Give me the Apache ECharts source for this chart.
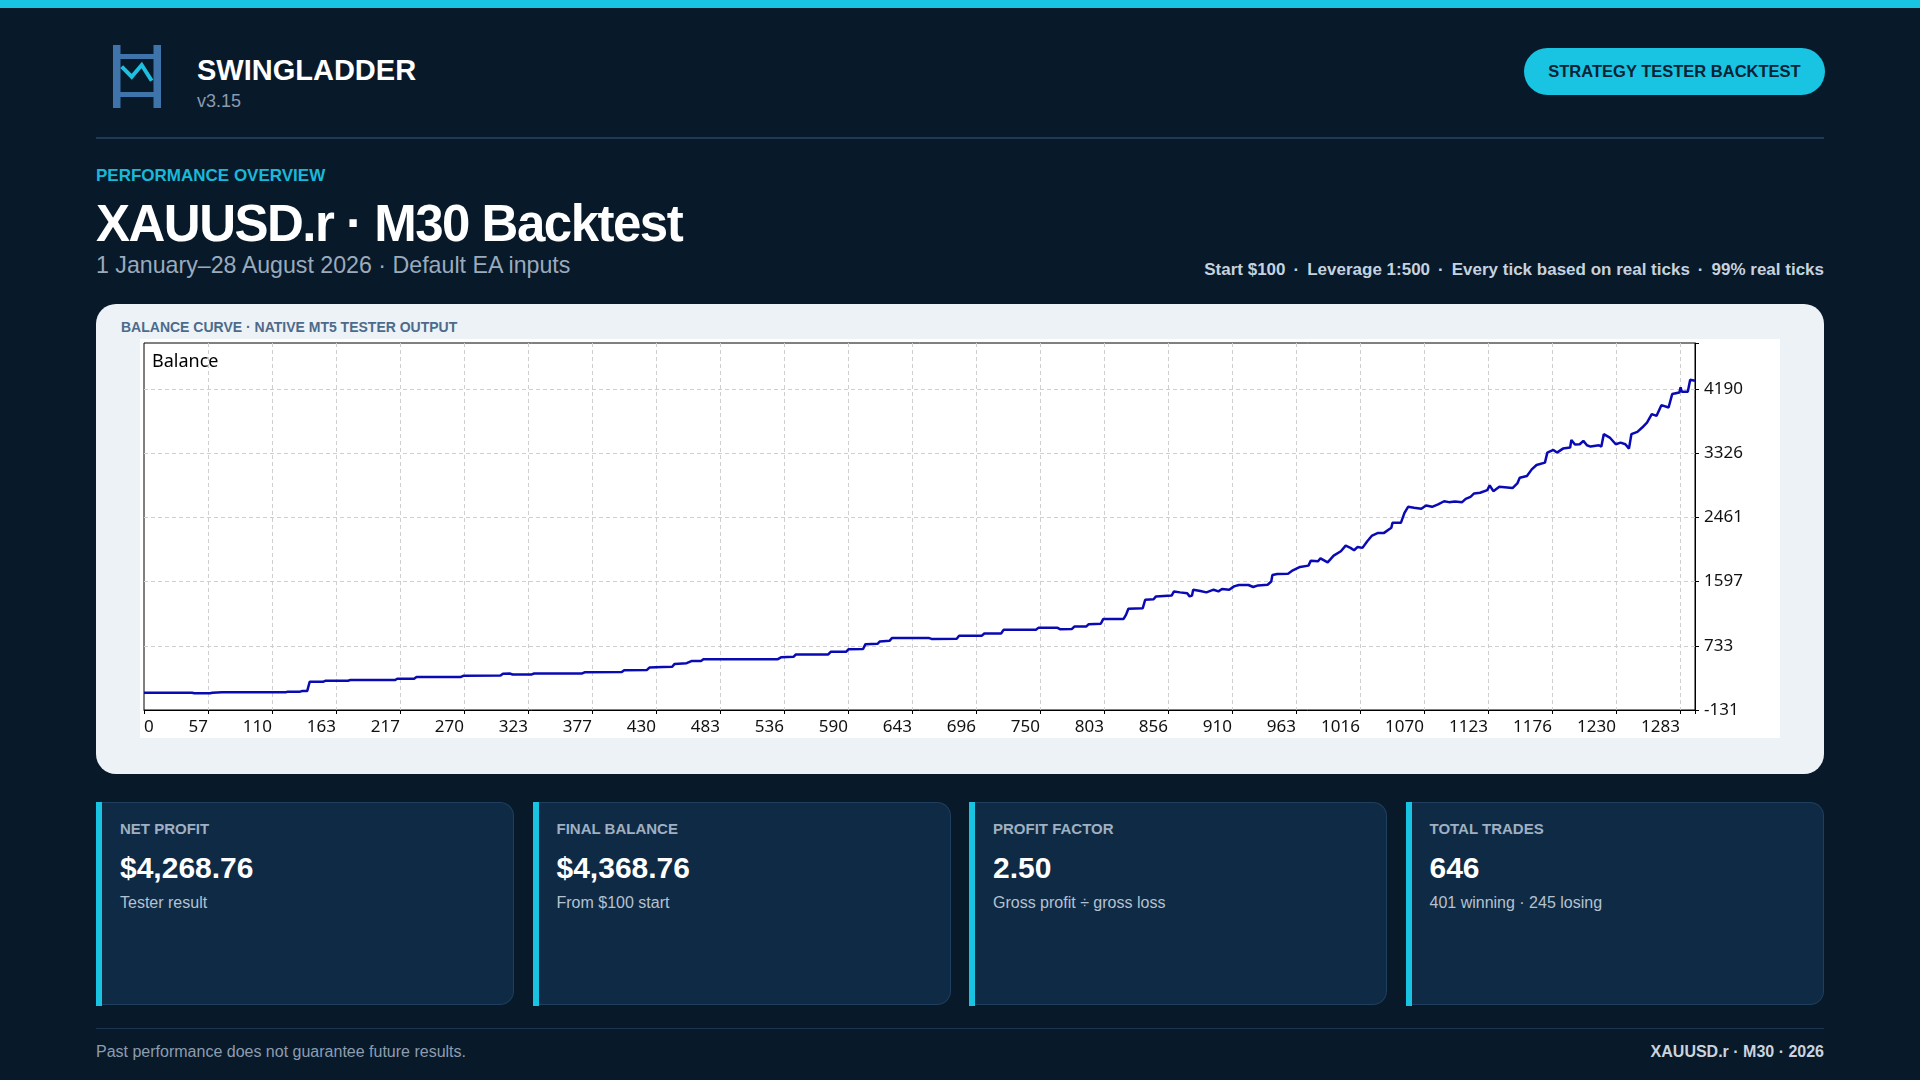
<!DOCTYPE html>
<html>
<head>
<meta charset="utf-8">
<title>SWINGLADDER - XAUUSD.r M30 Backtest</title>
<script src="https://cdn.jsdelivr.net/npm/echarts@6/dist/echarts.min.js"></script>
<style>
    body {
        margin: 0;
        width: 1920px;
        height: 1080px;
        overflow: hidden;
        position: relative;
        background: #08192a;
        font-family: "Liberation Sans", Arial, sans-serif;
    }
    .abs { position: absolute; white-space: nowrap; line-height: 1; }
    .topbar { position: absolute; left: 0; top: 0; width: 1920px; height: 8px; background: #19c3e2; }
    .rule { position: absolute; left: 96px; width: 1728px; }
    .badge {
        position: absolute; left: 1524px; top: 48px; width: 301px; height: 47px;
        border-radius: 24px; background: #19c3e2; color: #0a2233;
        font-weight: bold; font-size: 16.5px; line-height: 47px; text-align: center;
    }
    .meta span.dot { margin: 0 8px; }
    .panel {
        position: absolute; left: 96px; top: 304px; width: 1728px; height: 470px;
        background: #edf2f7; border-radius: 20px;
    }
    #balanceChart { position: absolute; left: 140px; top: 339px; width: 1640px; height: 399px; background: #fff; }
    .card {
        position: absolute; top: 802px; width: 418px; height: 203px; box-sizing: border-box;
        background: #0f2a45; border: 1.5px solid #1f3f5e; border-left: none;
        border-radius: 6px 14px 14px 6px;
    }
    .card .accent { position: absolute; left: 0; top: -1.5px; bottom: -1.5px; width: 6px; background: #19c3e2; }
    .card .lbl { position: absolute; left: 24px; top: 18px; font-size: 15px; font-weight: bold; color: #9fb0c2; line-height: 1; white-space: nowrap; }
    .card .val { position: absolute; left: 24px; top: 49.5px; font-size: 30px; font-weight: bold; color: #fff; line-height: 1; white-space: nowrap; }
    .card .sub { position: absolute; left: 24px; top: 91.5px; font-size: 16px; color: #b5c2cf; line-height: 1; white-space: nowrap; }
</style>
</head>
<body>
<div class="topbar"></div>

<!-- header -->
<svg class="abs" style="left:113px;top:45px" width="48" height="63" viewBox="0 0 48 63">
    <rect x="0" y="0" width="7.5" height="63" fill="#3e74aa"/>
    <rect x="40.5" y="0" width="7.5" height="63" fill="#3e74aa"/>
    <rect x="0" y="9" width="48" height="5" fill="#3e74aa"/>
    <rect x="0" y="47" width="48" height="5" fill="#3e74aa"/>
    <polyline points="8.7,21.7 18.7,31.7 28.7,20 38.7,35.7" fill="none" stroke="#1ec0e0" stroke-width="4"/>
</svg>
<div class="abs" style="left:197px;top:56px;font-size:29px;font-weight:bold;color:#fff">SWINGLADDER</div>
<div class="abs" style="left:197px;top:92px;font-size:18px;color:#8a9bb0">v3.15</div>
<div class="badge">STRATEGY TESTER BACKTEST</div>
<div class="rule" style="top:137px;height:2px;background:#1e3a55"></div>

<div class="abs" style="left:96px;top:166.5px;font-size:17px;font-weight:bold;color:#1ab8d8">PERFORMANCE OVERVIEW</div>
<div class="abs" style="left:96px;top:198px;font-size:51px;font-weight:bold;color:#fff;letter-spacing:-1.5px">XAUUSD.r · M30 Backtest</div>
<div class="abs" style="left:96px;top:253.5px;font-size:23.2px;color:#9aabbd">1 January–28 August 2026 · Default EA inputs</div>
<div class="abs meta" style="right:96px;top:261px;font-size:17px;font-weight:bold;color:#c5d2df">Start $100<span class="dot">·</span>Leverage 1:500<span class="dot">·</span>Every tick based on real ticks<span class="dot">·</span>99% real ticks</div>

<!-- chart panel -->
<div class="panel"></div>
<div class="abs" style="left:121px;top:320px;font-size:14px;font-weight:bold;color:#4c6b8a">BALANCE CURVE · NATIVE MT5 TESTER OUTPUT</div>
<div id="balanceChart"></div>

<!-- stat cards -->
<div class="card" style="left:96px"><div class="accent"></div>
    <div class="lbl">NET PROFIT</div><div class="val">$4,268.76</div><div class="sub">Tester result</div></div>
<div class="card" style="left:532.5px"><div class="accent"></div>
    <div class="lbl">FINAL BALANCE</div><div class="val">$4,368.76</div><div class="sub">From $100 start</div></div>
<div class="card" style="left:969px"><div class="accent"></div>
    <div class="lbl">PROFIT FACTOR</div><div class="val">2.50</div><div class="sub">Gross profit ÷ gross loss</div></div>
<div class="card" style="left:1405.5px"><div class="accent"></div>
    <div class="lbl">TOTAL TRADES</div><div class="val">646</div><div class="sub">401 winning · 245 losing</div></div>

<!-- footer -->
<div class="rule" style="top:1028px;height:1px;background:#1b3550"></div>
<div class="abs" style="left:96px;top:1043.5px;font-size:16px;color:#8d9db0">Past performance does not guarantee future results.</div>
<div class="abs" style="right:96px;top:1043.5px;font-size:16px;font-weight:bold;color:#c9d4df">XAUUSD.r · M30 · 2026</div>

<script>
    // tester axis labels
    var xTickLabels = ['0', '57', '110', '163', '217', '270', '323', '377', '430', '483', '536', '590', '643',
        '696', '750', '803', '856', '910', '963', '1016', '1070', '1123', '1176', '1230', '1283'];
    var yTickLabels = ['-131', '733', '1597', '2461', '3326', '4190'];

    // balance after each deal (deal number / balance)
    var dealIndex = [0, 40, 42, 55, 57, 65, 118, 120, 130, 132,
        136, 138, 149, 151, 170, 172, 209, 211, 225, 227,
        264, 266, 297, 299, 305, 307, 323, 325, 365, 367,
        398, 400, 419, 421, 432, 440, 442, 452, 456, 464,
        466, 528, 531, 541, 543, 570, 572, 585, 587, 599,
        601, 611, 613, 621, 623, 654, 656, 677, 679, 698,
        700, 714, 716, 743, 745, 761, 763, 773, 775, 785,
        787, 797, 799, 816, 818, 820, 832, 834, 841, 843,
        856, 858, 863, 869, 871, 873, 874, 880, 885, 891,
        895, 898, 904, 908, 912, 920, 924, 928, 936, 939,
        940, 944, 953, 957, 963, 970, 972, 978, 980, 986,
        991, 997, 1001, 1005, 1008, 1011, 1015, 1019, 1023, 1028,
        1033, 1039, 1040, 1047, 1050, 1053, 1058, 1064, 1068, 1073,
        1078, 1083, 1087, 1092, 1098, 1101, 1105, 1108, 1113, 1119,
        1121, 1124, 1129, 1140, 1144, 1146, 1152, 1156, 1160, 1167,
        1169, 1174, 1177, 1182, 1188, 1189, 1192, 1196, 1199, 1202,
        1205, 1212, 1214, 1216, 1221, 1226, 1230, 1234, 1237, 1239,
        1244, 1248, 1252, 1256, 1260, 1264, 1270, 1273, 1279, 1280,
        1281, 1286, 1288, 1292];
    var balance = [100, 100, 94, 94, 100, 108, 108, 116, 116, 124,
        126, 250, 248, 262, 264, 272, 272, 290, 290, 313,
        315, 330, 333, 358, 360, 347, 348, 360, 362, 377,
        380, 404, 408, 440, 447, 452, 490, 500, 528, 530,
        553, 553, 580, 585, 616, 618, 652, 655, 688, 690,
        756, 760, 792, 800, 837, 837, 826, 828, 868, 870,
        899, 899, 948, 950, 975, 975, 957, 960, 993, 995,
        1025, 1030, 1093, 1095, 1150, 1233, 1240, 1354, 1360, 1399,
        1410, 1466, 1453, 1440, 1399, 1410, 1489, 1471, 1453, 1489,
        1467, 1498, 1489, 1534, 1552, 1552, 1525, 1547, 1556, 1600,
        1687, 1700, 1705, 1750, 1795, 1813, 1880, 1872, 1912, 1858,
        1948, 2007, 2083, 2052, 2020, 2065, 2052, 2142, 2218, 2254,
        2254, 2322, 2389, 2389, 2524, 2605, 2592, 2578, 2623, 2605,
        2637, 2680, 2668, 2677, 2668, 2713, 2740, 2785, 2794, 2830,
        2893, 2816, 2875, 2857, 2920, 2997, 3019, 3109, 3168, 3200,
        3335, 3371, 3335, 3389, 3403, 3506, 3443, 3448, 3493, 3434,
        3416, 3434, 3416, 3583, 3538, 3448, 3470, 3448, 3389, 3583,
        3614, 3673, 3740, 3853, 3830, 3974, 3943, 4123, 4145, 4213,
        4154, 4154, 4316, 4303];

    var xMin = 0, xMax = 1292, xStep = 1292 * 64 / 1551;
    var yMin = -131, yMax = 4811, yStep = 864.2;

    // pick the tester's own label for a tick, blank for the extra end tick
    var tickLabel = function (list, min, step) {
        return function (v) {
            var i = Math.round((v - min) / step);
            if (Math.abs(v - (min + i * step)) > step / 100) return '';
            return list[i] !== undefined ? list[i] : '';
        };
    };

    var seriesData = [];
    for (var i = 0; i < dealIndex.length; i++) {
        seriesData.push([dealIndex[i], balance[i]]);
    }

    var myChart = echarts.init(document.getElementById('balanceChart'));
    var option = {
        animation: false,
        backgroundColor: '#ffffff',
        textStyle: {fontFamily: '"Noto Sans", sans-serif'},
        graphic: [{
            type: 'text',
            left: 12,
            top: 13.5,
            style: {text: 'Balance', fill: '#000', font: '18px "Noto Sans", sans-serif'}
        }],
        grid: {
            left: 4,
            top: 4,
            width: 1551,
            height: 367,
            show: true,
            borderColor: '#000',
            borderWidth: 1
        },
        xAxis: {
            type: 'value',
            min: xMin,
            max: xMax,
            interval: xStep,
            axisLine: {show: true, onZero: false, lineStyle: {color: '#000', width: 1}},
            axisTick: {show: true, length: 4, lineStyle: {color: '#000'}},
            axisLabel: {
                color: '#111',
                fontSize: 17,
                margin: 8.5,
                align: 'right',
                alignMinLabel: 'left',
                formatter: tickLabel(xTickLabels, xMin, xStep)
            },
            splitLine: {show: true, showMinLine: false, showMaxLine: false, lineStyle: {color: '#cfcfcf', type: [4, 3], width: 1}}
        },
        yAxis: {
            type: 'value',
            position: 'right',
            min: yMin,
            max: yMax,
            interval: yStep,
            axisLine: {show: true, onZero: false, lineStyle: {color: '#000', width: 1}},
            axisTick: {show: true, length: 4, lineStyle: {color: '#000'}},
            axisLabel: {
                color: '#111',
                fontSize: 17,
                margin: 9,
                padding: [8, 0, 0, 0],
                formatter: tickLabel(yTickLabels, yMin, yStep)
            },
            splitLine: {show: true, showMinLine: false, showMaxLine: false, lineStyle: {color: '#cfcfcf', type: [4, 3], width: 1}}
        },
        series: [{
            name: 'Balance',
            type: 'line',
            data: seriesData,
            showSymbol: false,
            sampling: null,
            lineStyle: {color: '#0a0ab4', width: 2.5},
            itemStyle: {color: '#0a0ab4'}
        }]
    };
    myChart.setOption(option);
</script>
</body>
</html>
